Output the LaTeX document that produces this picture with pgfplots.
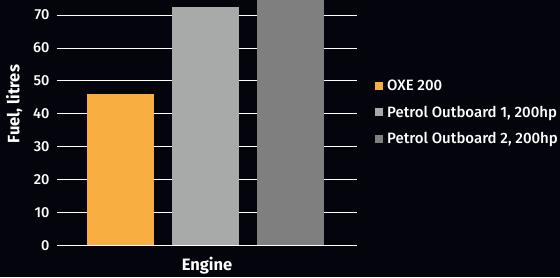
\documentclass[border=0pt]{standalone}
\usepackage{fontspec}
\setmainfont{Fira Sans}
\newfontfamily\medfont{Fira Sans Medium}
\usepackage{pgfplots}
\pgfplotsset{compat=1.18}
\definecolor{bg}{RGB}{4,4,12}
\definecolor{c1}{RGB}{249,174,65}
\definecolor{c2}{RGB}{168,170,170}
\definecolor{c3}{RGB}{127,127,127}
\begin{document}
\begin{tikzpicture}
\fill[bg] (0,0) rectangle (560pt,277pt);
\begin{axis}[
  at={(57pt,31.7pt)}, anchor=south west,
  scale only axis, width=300pt, height=245.3pt,
  xmin=-0.747, xmax=2.78, ymin=0, ymax=74.6,
  axis x line*=bottom, axis y line*=left,
  x axis line style={white, line width=1pt, -},
  y axis line style={draw=none},
  ymajorgrids, grid style={white, line width=0.8pt},
  ytick={0,10,...,70}, xtick=\empty,
  major tick length=0pt, tick style={draw=none},
  ticklabel style={white, font=\medfont\fontsize{14.5}{16}\selectfont},
  yticklabel style={xshift=-4pt},
  /pgf/number format/assume math mode=true,
  ylabel={Fuel, litres}, xlabel={Engine},
  label style={white, font=\bfseries\fontsize{16.5}{18}\selectfont},
  ylabel style={at={(axis description cs:-0.143,0.576)}, anchor=center},
  xlabel style={at={(axis description cs:0.5,-0.0815)}, anchor=center},
  ybar, bar width=67pt, bar shift=0pt,
  legend image code/.code={\fill[#1,draw=none] (0pt,-4pt) rectangle (8pt,4pt); \path (0pt,0pt) -- (10pt,0pt);},
  legend style={at={(axis description cs:1.05,0.69)}, anchor=north west, draw=none, fill=none,
    text=white, font=\medfont\fontsize{15}{16}\selectfont, row sep=9.5pt},
  legend cell align=left,
]
\addplot[fill=c1, draw=none] coordinates {(0,45.9)};
\addplot[fill=c2, draw=none] coordinates {(1,72.4)};
\addplot[fill=c3, draw=none] coordinates {(2,76)};
\legend{OXE 200, {Petrol Outboard 1, 200hp}, {Petrol Outboard 2, 200hp}}
\end{axis}
\pgfresetboundingbox
\useasboundingbox (0,0) rectangle (560pt,277pt);
\end{tikzpicture}
\end{document}
